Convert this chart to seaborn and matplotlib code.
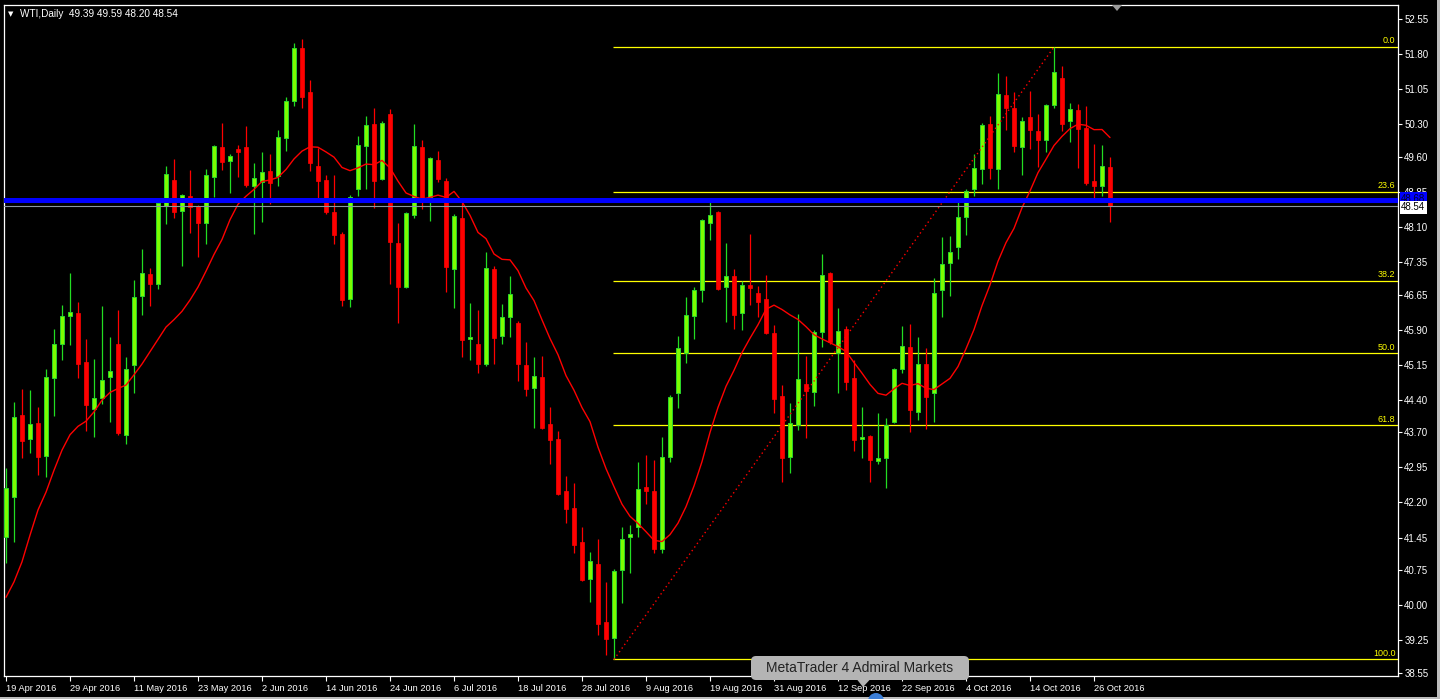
import numpy as np
import pandas as pd
import matplotlib
matplotlib.use("Agg")
import matplotlib.pyplot as plt
import matplotlib.transforms as mtransforms
from matplotlib.patches import Polygon, FancyBboxPatch, Rectangle, Circle
import seaborn as sns

# ---------------- data ----------------
symbol = "WTI,Daily"
opens = [41.46, 42.32, 44.07, 43.56, 43.90, 43.19, 44.86, 45.59, 46.19, 46.26,
         45.21, 44.20, 44.44, 44.89, 45.59, 43.65, 45.14, 46.62, 47.09, 46.88,
         48.55, 49.10, 48.44, 48.76, 48.55, 48.18, 49.17, 49.81, 49.51, 49.77,
         49.81, 48.97, 49.06, 49.30, 49.19, 50.00, 50.79, 51.93, 50.99, 49.40,
         49.10, 48.42, 47.95, 46.56, 48.91, 49.83, 50.30, 49.12, 50.52, 47.75,
         46.81, 48.35, 49.81, 48.65, 49.53, 49.08, 47.20, 48.29, 45.70, 45.59,
         45.16, 47.20, 45.76, 46.17, 46.04, 45.14, 44.65, 44.89, 43.88, 43.56,
         42.44, 42.08, 41.35, 40.56, 40.88, 39.64, 39.30, 40.75, 41.46, 41.67,
         42.53, 42.44, 41.20, 43.17, 44.54, 45.40, 46.19, 46.75, 48.18, 48.42,
         46.81, 47.05, 46.26, 46.86, 46.68, 46.56, 45.83, 44.48, 43.17, 43.86,
         44.74, 44.56, 45.85, 47.11, 45.40, 45.91, 44.86, 43.56, 43.62, 43.09,
         43.15, 43.92, 45.06, 45.53, 44.14, 45.16, 44.54, 46.75, 47.33, 47.67,
         48.31, 48.91, 49.34, 50.30, 49.34, 50.92, 50.64, 49.81, 50.45, 50.15,
         49.96, 50.71, 51.29, 50.37, 50.60, 50.22, 49.08, 48.97, 49.39]
highs = [42.94, 44.35, 44.63, 44.61, 44.24, 45.06, 45.91, 46.43, 47.11, 46.49,
         45.70, 45.27, 46.41, 45.74, 46.32, 45.31, 46.96, 47.63, 47.22, 48.63,
         49.40, 49.55, 48.80, 49.32, 48.57, 49.34, 49.85, 50.32, 49.66, 49.85,
         50.26, 49.47, 49.70, 49.66, 50.17, 50.88, 52.04, 52.12, 51.24, 49.79,
         49.21, 49.21, 47.99, 48.78, 50.05, 50.47, 50.64, 50.37, 50.62, 48.18,
         48.42, 50.30, 49.96, 49.60, 49.72, 49.15, 48.37, 48.72, 46.47, 46.32,
         47.56, 47.26, 46.45, 47.05, 46.08, 45.64, 45.31, 45.33, 44.24, 43.73,
         42.77, 42.62, 41.67, 41.14, 41.42, 40.50, 40.78, 41.67, 41.72, 43.07,
         43.22, 43.11, 43.60, 44.50, 45.76, 46.60, 46.81, 48.27, 48.65, 48.44,
         47.75, 47.20, 46.94, 47.95, 46.83, 47.07, 46.00, 44.71, 44.33, 46.23,
         45.33, 45.89, 47.52, 47.13, 46.36, 45.98, 45.25, 44.24, 43.64, 44.11,
         44.01, 45.08, 45.98, 46.02, 45.74, 45.51, 47.01, 47.88, 47.90, 48.68,
         48.91, 49.66, 50.32, 50.47, 51.39, 51.33, 50.99, 50.45, 51.01, 50.52,
         50.73, 51.95, 51.54, 50.75, 50.73, 50.69, 49.87, 49.85, 49.59]
lows = [40.90, 41.35, 43.15, 43.26, 42.79, 42.74, 44.05, 45.25, 45.57, 44.86,
        43.73, 43.60, 44.31, 43.92, 43.65, 43.45, 44.54, 46.21, 46.41, 46.77,
        48.16, 48.29, 47.26, 47.97, 47.46, 47.73, 48.74, 49.32, 48.82, 49.17,
        48.95, 47.95, 48.20, 48.59, 48.97, 49.72, 50.69, 50.64, 49.30, 48.63,
        48.37, 47.73, 46.41, 46.38, 48.76, 48.91, 48.50, 49.10, 46.88, 46.04,
        46.79, 48.29, 48.48, 48.22, 49.06, 46.71, 46.36, 45.31, 45.25, 44.97,
        45.12, 45.16, 45.59, 45.74, 44.80, 44.48, 43.79, 43.77, 43.02, 42.36,
        41.76, 41.12, 40.52, 40.07, 39.36, 38.93, 38.85, 40.05, 40.69, 41.46,
        42.17, 41.12, 41.12, 43.07, 44.22, 45.19, 45.70, 46.49, 47.82, 46.75,
        46.06, 45.91, 45.89, 46.43, 46.17, 45.81, 44.11, 42.64, 42.83, 43.75,
        43.58, 44.26, 45.53, 45.59, 44.54, 44.61, 43.30, 43.15, 42.64, 43.02,
        42.51, 43.90, 44.97, 43.71, 43.97, 43.77, 43.92, 46.17, 46.62, 47.41,
        47.93, 48.76, 49.02, 49.12, 48.91, 50.17, 49.70, 49.21, 49.77, 49.38,
        49.70, 50.64, 50.15, 49.92, 49.36, 49.00, 48.63, 48.76, 48.20]
closes = [42.51, 44.03, 43.52, 43.88, 43.17, 44.89, 45.59, 46.19, 46.28, 45.16,
          44.29, 44.44, 44.82, 45.01, 43.69, 45.06, 46.60, 47.11, 46.88, 48.61,
          49.23, 48.42, 48.78, 48.53, 48.18, 49.21, 49.83, 49.49, 49.62, 49.70,
          49.00, 49.15, 49.27, 49.04, 50.02, 50.79, 51.93, 50.88, 49.47, 49.08,
          48.42, 47.93, 46.53, 48.74, 49.85, 50.28, 49.08, 50.32, 47.78, 46.81,
          48.40, 49.83, 48.68, 49.57, 49.12, 47.24, 48.33, 45.68, 45.74, 45.16,
          47.22, 45.72, 46.17, 46.66, 45.16, 44.63, 44.91, 43.79, 43.54, 42.38,
          42.06, 41.29, 40.54, 40.95, 39.60, 39.28, 40.73, 41.42, 41.53, 42.49,
          42.44, 41.20, 43.17, 44.46, 45.51, 46.21, 46.75, 48.25, 48.35, 46.77,
          47.05, 46.21, 46.86, 46.79, 46.49, 45.83, 44.41, 43.15, 43.90, 44.84,
          44.59, 45.85, 47.07, 45.64, 45.87, 44.78, 43.54, 43.60, 43.11, 43.15,
          43.86, 45.06, 45.55, 44.18, 45.16, 44.46, 46.68, 47.31, 47.56, 48.31,
          48.87, 49.36, 50.28, 49.36, 50.95, 50.64, 49.83, 50.37, 50.17, 49.96,
          50.71, 51.42, 50.30, 50.62, 50.20, 49.04, 48.97, 49.40, 48.54]

ma_period = 14
# moving average values for the first bars (history before the window)
ma_head = [40.17, 40.50, 40.93, 41.50, 42.04, 42.42, 42.89, 43.32, 43.65,
           43.83, 43.94, 44.14, 44.39]

date_labels = ["19 Apr 2016", "29 Apr 2016", "11 May 2016", "23 May 2016",
               "2 Jun 2016", "14 Jun 2016", "24 Jun 2016", "6 Jul 2016",
               "18 Jul 2016", "28 Jul 2016", "9 Aug 2016", "19 Aug 2016",
               "31 Aug 2016", "12 Sep 2016", "22 Sep 2016", "4 Oct 2016",
               "14 Oct 2016", "26 Oct 2016"]
date_tick_step = 8

price_ticks = [52.55, 51.80, 51.05, 50.30, 49.60, 48.85, 48.10, 47.35, 46.65,
               45.90, 45.15, 44.40, 43.70, 42.95, 42.20, 41.45, 40.75, 40.00,
               39.25, 38.55]

fib_ratios = [0.0, 23.6, 38.2, 50.0, 61.8, 100.0]
fib_high = 51.95
fib_low = 38.84
fib_low_bar = 76
fib_high_bar = 131

level_line = 48.68
bid_price = 48.54
tooltip_text = "MetaTrader 4 Admiral Markets"

# ---------------- style ----------------
sns.set_theme(style="dark", rc={"axes.facecolor": "black",
                                "figure.facecolor": "black"})
plt.rcParams["font.family"] = ["Liberation Sans", "DejaVu Sans"]

W, H = 1440, 699
fig = plt.figure(figsize=(W / 100, H / 100), dpi=100)
fig.patch.set_facecolor("black")
ax = fig.add_axes([4 / W, 23 / H, 1394 / W, 671 / H])
ax.set_facecolor("black")

n = len(closes)
bars = np.arange(n)
o = np.array(opens)
hi = np.array(highs)
lo = np.array(lows)
c = np.array(closes)
up = c >= o

body_lo = np.minimum(o, c)
body_h = np.maximum(np.abs(c - o), 0.03)

GREEN_FILL = "#7CFC00"
GREEN_EDGE = "#2BD62B"
GREEN_WICK = "#22DD22"
RED = "#FF0000"

ax.vlines(bars[up], lo[up], hi[up], color=GREEN_WICK, lw=0.9, zorder=3)
ax.vlines(bars[~up], lo[~up], hi[~up], color=RED, lw=0.9, zorder=3)
ax.bar(bars[up], body_h[up], bottom=body_lo[up], width=0.62,
       color=GREEN_FILL, edgecolor=GREEN_EDGE, linewidth=0.7, zorder=4)
ax.bar(bars[~up], body_h[~up], bottom=body_lo[~up], width=0.62,
       color=RED, edgecolor=RED, linewidth=0.5, zorder=4)

# moving average
ma = pd.Series(c).rolling(ma_period).mean().to_numpy()
ma[:len(ma_head)] = ma_head
ma_df = pd.DataFrame({"bar": bars, "ma": ma})
sns.lineplot(data=ma_df, x="bar", y="ma", color=RED, lw=1.0, ax=ax,
             zorder=5, legend=False)

# fibonacci retracement
fib_prices = [fib_high - (fib_high - fib_low) * r / 100 for r in fib_ratios]
x_right = 174.0
ax.hlines(fib_prices, fib_low_bar - 0.1, x_right, color="#FFFF00", lw=0.9,
          zorder=2)
for r, p in zip(fib_ratios, fib_prices):
    ax.text(173.7, p + 0.035, f"{r:.1f}", color="#FFFF00", fontsize=6.5,
            ha="right", va="bottom", zorder=7)
ax.plot([fib_low_bar, fib_high_bar], [fib_low, fib_high], color=RED,
        lw=1.0, ls=(0, (1, 2.2)), zorder=5)

# horizontal level and bid line
ax.axhline(level_line, color="#0000FF", lw=3.6, zorder=6)
ax.axhline(bid_price, color="#8A96A2", lw=0.8, zorder=6)

# axes
ax.set_xlim(-0.25, x_right)
ax.set_ylim(38.485, 52.85)
for s in ax.spines.values():
    s.set_color("white")
    s.set_linewidth(0.9)
    s.set_visible(True)

ax.yaxis.tick_right()
ax.set_yticks(price_ticks)
ax.set_yticklabels([f"{v:.2f}" for v in price_ticks])
ax.set_xticks(bars[::date_tick_step][:len(date_labels)])
ax.set_xticklabels(date_labels, ha="left")
ax.tick_params(axis="y", right=True, left=False, colors="white",
               labelcolor="white", length=3, width=0.8, labelsize=7, pad=1.5)
ax.tick_params(axis="x", bottom=True, colors="white", labelcolor="white",
               length=3.5, width=0.8, labelsize=6.7, pad=2)
ax.set_xlabel("")
ax.set_ylabel("")
ax.grid(False)

# price labels on the right axis
ax.annotate(f"{level_line:.2f}", xy=(1.0, level_line + 0.02),
            xycoords=("axes fraction", "data"), xytext=(3, 0),
            textcoords="offset pixels", ha="left", va="center",
            fontsize=7, color="#000030", zorder=8, annotation_clip=False,
            bbox=dict(boxstyle="square,pad=0.15", fc="#0000FF", ec="none"))
ax.annotate(f"{bid_price:.2f}", xy=(1.0, bid_price - 0.02),
            xycoords=("axes fraction", "data"), xytext=(3, 0),
            textcoords="offset pixels", ha="left", va="center",
            fontsize=7, color="black", zorder=9, annotation_clip=False,
            bbox=dict(boxstyle="square,pad=0.15", fc="white", ec="none"))

# title
fig.text(8 / W, 1 - 14 / H, "\u25BC", color="white", fontsize=5,
         ha="left", va="center", family=["DejaVu Sans"])
fig.text(20 / W, 1 - 14 / H,
         f"{symbol}  {opens[-1]:.2f} {highs[-1]:.2f} {lows[-1]:.2f} {closes[-1]:.2f}",
         color="white", fontsize=7.2, ha="left", va="center")

# window decorations
ident = mtransforms.IdentityTransform()
fig.patches.append(Polygon([[1112, 694], [1122, 694], [1117, 688]],
                           closed=True, fc="#9A9A9A", ec="none",
                           transform=ident, figure=fig))
fig.patches.append(Rectangle((1437, 0), 3, H, fc="#BDBDBD", ec="none",
                             transform=ident, figure=fig))
fig.patches.append(Rectangle((0, 0), W, 2.5, fc="#BDBDBD", ec="none",
                             transform=ident, figure=fig))
fig.patches.append(FancyBboxPatch((751, 19), 218, 24,
                                  boxstyle="round,pad=0,rounding_size=5",
                                  fc="#B4B4B4", ec="none", transform=ident,
                                  figure=fig, zorder=10))
fig.patches.append(Polygon([[857, 19.5], [870, 19.5], [863, 12]], closed=True,
                           fc="#B4B4B4", ec="none", transform=ident,
                           figure=fig, zorder=10))
fig.patches.append(Circle((876, -2), 8, fc="#3C7FD8", ec="none",
                          transform=ident, figure=fig, zorder=10))
fig.text(860 / W, 31 / H, tooltip_text, color="#222222", fontsize=10,
         ha="center", va="center", zorder=11)

fig.savefig("out.png", dpi=100, facecolor="black")
